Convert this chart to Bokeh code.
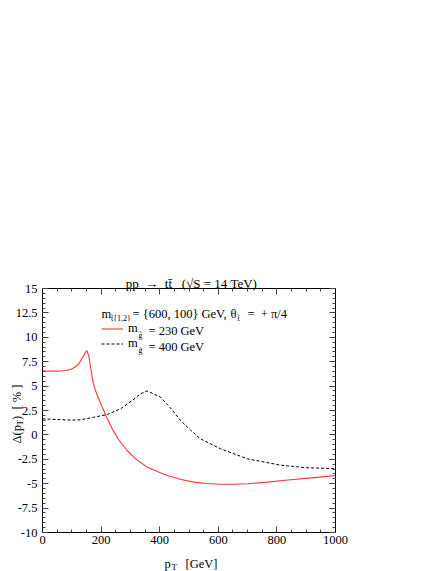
from bokeh.plotting import figure
from bokeh.models import (Range1d, LinearAxis, FixedTicker, Legend,
                          LegendItem, CustomJSTickFormatter)
from bokeh.core.properties import value
from bokeh.embed import file_html
from bokeh.resources import INLINE
import math

# ---------------- data ----------------
pt_230 = [0, 30, 61, 80, 96, 110, 124, 139, 147, 151, 158, 164, 170, 175, 187, 204,
          221, 238, 260, 289, 320, 357, 400, 426, 470, 516, 560, 608, 650, 700, 767,
          846, 920, 1000]
delta_230 = [6.55, 6.53, 6.55, 6.6, 6.7, 6.93, 7.28, 8.03, 8.47, 8.62, 8.14, 6.94,
             5.9, 5.06, 4.04, 2.84, 1.65, 0.62, -0.5, -1.6, -2.5, -3.3, -3.85, -4.16,
             -4.55, -4.84, -4.98, -5.05, -5.05, -5.0, -4.84, -4.6, -4.4, -4.16]

pt_400 = [0, 30, 61, 100, 130, 175, 221, 266, 306, 334, 350, 357, 366, 403, 440,
          471, 505, 539, 608, 699, 812, 903, 1000]
delta_400 = [1.65, 1.6, 1.56, 1.52, 1.55, 1.81, 2.09, 2.67, 3.52, 4.2, 4.42, 4.5,
             4.38, 3.86, 2.65, 1.48, 0.5, -0.4, -1.43, -2.45, -3.1, -3.37, -3.45]

x_ticks = [0, 200, 400, 600, 800, 1000]
x_tick_labels = ["0", "200", "400", "600", "800", "1000"]
x_minor_ticks = [50 * i for i in range(21)]
y_ticks = [-10, -7.5, -5, -2.5, 0, 2.5, 5, 7.5, 10, 12.5, 15]
y_tick_labels = ["-10", "-7.5", "-5", "-2.5", "0", "2.5", "5", "7.5", "10", "12.5", "15"]
y_minor_ticks = [-10 + 0.5 * i for i in range(51)]

# ---------------- layout ----------------
FONT = "Liberation Serif"
W, H = 442, 571
L, R, T, B = 42, 107, 288, 39
X0, X1, Y0, Y1 = 0, 1000, -10, 15
FW, FH = W - L - R, H - T - B
RED = "#ff3535"


def dx(xp):  # page pixel -> data x
    return X0 + (xp - L) / FW * (X1 - X0)


def dy(yp):  # page pixel -> data y
    return Y1 - (yp - T) / FH * (Y1 - Y0)


p = figure(width=W, height=H, x_range=Range1d(X0, X1), y_range=Range1d(Y0, Y1),
           output_backend="svg", toolbar_location=None,
           min_border_left=L, min_border_right=R, min_border_top=T, min_border_bottom=B)
p.xgrid.visible = False
p.ygrid.visible = False
p.outline_line_color = "black"
p.background_fill_color = "white"
p.border_fill_color = "white"

r1 = p.line(pt_230, delta_230, line_color=RED, line_width=1.1)
r2 = p.line(pt_400, delta_400, line_color="black", line_width=1, line_dash="3 2")


def style_axis(ax, ticks, minor, labels, show):
    ax.ticker = FixedTicker(ticks=ticks, minor_ticks=minor)
    ax.major_tick_in = 6
    ax.major_tick_out = 0
    ax.minor_tick_in = 3
    ax.minor_tick_out = 0
    ax.axis_line_color = "black"
    ax.major_tick_line_color = "#444444"
    ax.minor_tick_line_color = "#444444"
    ax.major_label_text_font = FONT
    ax.major_label_text_font_size = "12.5px"
    ax.major_label_text_color = "black"
    if show:
        ax.major_label_overrides = {t: s for t, s in zip(ticks, labels)}
    else:
        ax.formatter = CustomJSTickFormatter(code="return ''")
        ax.major_label_text_font_size = "0px"


xb = p.xaxis[0]
yl = p.yaxis[0]
style_axis(xb, x_ticks, x_minor_ticks, x_tick_labels, True)
style_axis(yl, y_ticks, y_minor_ticks, y_tick_labels, True)
xb.major_label_standoff = 3
yl.major_label_standoff = 5

xt = LinearAxis()
style_axis(xt, x_ticks, x_minor_ticks, x_tick_labels, False)
p.add_layout(xt, "above")
yr = LinearAxis()
style_axis(yr, y_ticks, y_minor_ticks, y_tick_labels, False)
p.add_layout(yr, "right")

# legend (swatches + "m")
leg = Legend(items=[LegendItem(label=value("m"), renderers=[r1]),
                    LegendItem(label=value("m"), renderers=[r2])],
             location=(101 - L, H - B - 351), orientation="vertical",
             glyph_width=22, glyph_height=15, label_height=15, label_standoff=5,
             spacing=0, padding=0, margin=0, border_line_color=None,
             background_fill_alpha=0, label_text_font=FONT,
             label_text_font_size="12.5px", label_text_color="black")
p.add_layout(leg)


def lab(xp, yp, text, size="12.5px", align="left", angle=0.0):
    # text glyph at overlay level so it is not clipped to the frame
    p.text(x=[dx(xp)], y=[dy(yp)], text=[text], text_font=value(FONT),
           text_font_size=value(size), text_align=align,
           text_baseline="alphabetic", text_color="black", angle=angle,
           level="overlay")


# title
lab(191, 283, "pp \u00a0\u2192 \u00a0tt\u0304 \u00a0\u00a0(\u221aS = 14 TeV)",
    size="13px", align="center")

# legend header
lab(101, 313, "m")
lab(110.5, 317.5, "t\u0303{1,2}", size="8px")
lab(132, 313, "= {600, 100} GeV,")
lab(230, 313, "\u03b8")
lab(237, 317.5, "t\u0303", size="8px")
lab(247, 313, "= \u00a0+ \u03c0/4")
# legend rows
lab(138, 334.5, "g\u0303", size="8px")
lab(148, 330.5, "= 230 GeV")
lab(138, 350, "g\u0303", size="8px")
lab(148, 346, "= 400 GeV")

# y axis label (rotated)
lab(16, 443, "\u0394(p", angle=math.pi / 2)
lab(19.5, 425, "T", size="9px", angle=math.pi / 2)
lab(16, 419.5, ") \u00a0[ % ]", angle=math.pi / 2)

# x axis label
lab(164, 563, "p")
lab(171, 566, "T", size="9px")
lab(185, 563, "[GeV]")

open("out.html", "w").write(file_html(p, INLINE))
